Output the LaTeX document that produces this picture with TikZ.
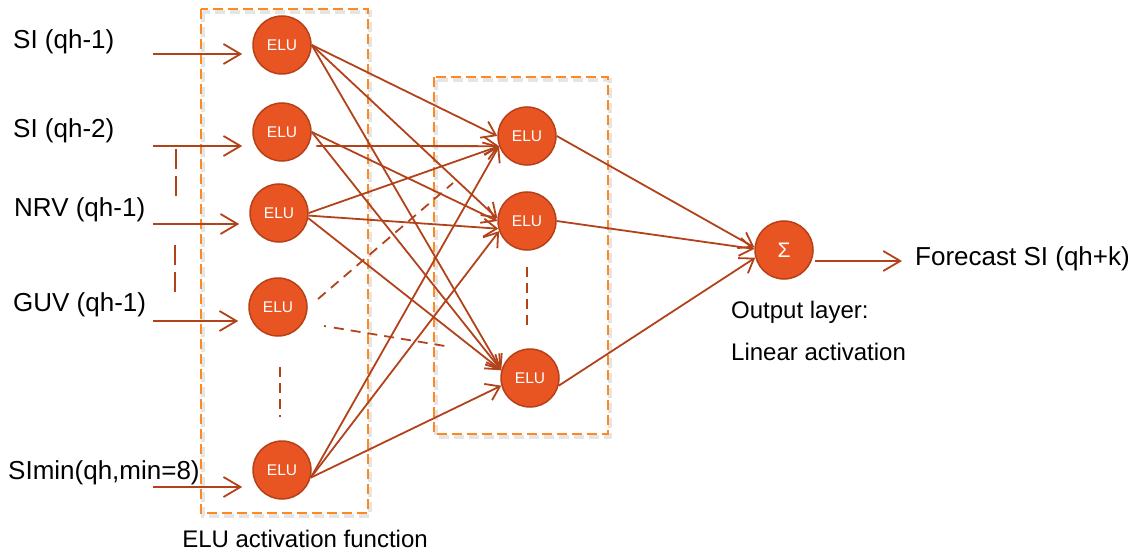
\documentclass[tikz,border=0pt]{standalone}
\usepackage{fontspec}
\setmainfont{Liberation Sans}
\usetikzlibrary{arrows.meta}
\definecolor{brick}{RGB}{178,66,26}
\definecolor{elufill}{RGB}{232,85,34}
\definecolor{eluborder}{RGB}{182,64,24}
\definecolor{boxorange}{RGB}{255,137,30}
\tikzset{
  neuron/.style={circle, fill=elufill, draw=eluborder, line width=1.5pt, minimum size=58pt, inner sep=0pt, text=white, font=\fontsize{15.5}{15.5}\selectfont},
  conn/.style={draw=brick, line width=1.8pt, -{Straight Barb[length=13pt,width=18pt]}},
  inarrow/.style={draw=brick, line width=1.8pt, -{Straight Barb[length=17pt,width=20pt]}, shorten >=10pt},
  lbl/.style={inner sep=0pt, anchor=west, font=\fontsize{26}{30}\selectfont},
  outlbl/.style={inner sep=0pt, anchor=west, font=\fontsize{24}{28}\selectfont},
  layerbox/.style={draw=boxorange, line width=2.5pt, dash pattern=on 10pt off 5pt},
  boxshadow/.style={draw=black!10, line width=4pt, dash pattern=on 10pt off 5pt},
  dots/.style={draw=brick, line width=2pt, dash pattern=on 10pt off 6pt},
  partial/.style={draw=brick, line width=1.8pt, dash pattern=on 10pt off 7pt}
}
\begin{document}
\begin{tikzpicture}[x=1pt,y=-1pt]
\useasboundingbox (0,0) rectangle (1137,556);

% layer boxes with soft shadow
\draw[boxshadow] (203,12) rectangle (370,516);
\draw[layerbox] (201,9) rectangle (368,513);
\draw[boxshadow] (436,80) rectangle (610,437);
\draw[layerbox] (434,77) rectangle (608,434);

% input labels
\node[lbl] (l1) at (13,42) {SI (qh-1)};
\node[lbl] (l2) at (13,131) {SI (qh-2)};
\node[lbl] (l3) at (14,210) {NRV (qh-1)};
\node[lbl] (l4) at (13,305) {GUV (qh-1)};
\node[lbl] (l5) at (8,473) {SImin(qh,min=8)};

% first layer
\node[neuron] (n1) at (282,45) {ELU};
\node[neuron] (n2) at (282,132) {ELU};
\node[neuron] (n3) at (279,213) {ELU};
\node[neuron] (n4) at (278,307) {ELU};
\node[neuron] (n5) at (282,470) {ELU};

% second layer
\node[neuron] (h1) at (527,136) {ELU};
\node[neuron] (h2) at (527,221) {ELU};
\node[neuron] (h3) at (530,378) {ELU};

% output
\node[neuron, font=\fontsize{21}{21}\selectfont] (out) at (784,250) {Σ};
\node[lbl] (fc) at (915,259) {Forecast SI (qh+k)};
\node[outlbl] (ol1) at (731,312) {Output layer:};
\node[outlbl] (ol2) at (731,352) {Linear activation};
\node[outlbl, anchor=center] (cap) at (305,539) {ELU activation function};

% input arrows
\coordinate (s1) at (153,54);
\coordinate (s2) at (153,146);
\coordinate (s3) at (153,224);
\coordinate (s4) at (153,321);
\coordinate (s5) at (153,487);
\draw[inarrow] (s1) -- (s1 -| n1.west);
\draw[inarrow] (s2) -- (s2 -| n2.west);
\draw[inarrow] (s3) -- (s3 -| n3.west);
\draw[inarrow] (s4) -- (s4 -| n4.west);
\draw[inarrow] (s5) -- (s5 -| n5.west);

% ellipsis dashes
\coordinate (e1a) at (176,149); \coordinate (e1b) at (176,198);
\coordinate (e2a) at (175,245); \coordinate (e2b) at (175,295);
\coordinate (e3a) at (280,367); \coordinate (e3b) at (280,417);
\coordinate (e4a) at (527,267); \coordinate (e4b) at (527,330);
\draw[dots, dash pattern=on 20pt off 7pt] (e1a) -- (e1b);
\draw[dots, dash pattern=on 20pt off 7pt] (e2a) -- (e2b);
\draw[dots] (e3a) -- (e3b);
\draw[dots] (e4a) -- (e4b);

% hidden connections
\draw[conn] (n1.east) -- (h1.180);
\draw[conn] (n1.east) -- (h2.175);
\draw[conn] (n1.east) -- (h3.165);
\draw[conn, shorten <=8pt] (n2.-28) -- (h1.200);
\draw[conn] (n2.east) -- (h2.180);
\draw[conn] (n2.east) -- (h3.165);
\draw[conn] (n3.east) -- (h1.200);
\draw[conn] (n3.-5) -- (h2.195);
\draw[conn] (n3.-10) -- (h3.165);
\draw[conn] (n5.-15) -- (h1.200);
\draw[conn] (n5.-15) -- (h2.200);
\draw[conn] (n5.-15) -- (h3.195);

% partial dashed links from the GUV neuron
\coordinate (d1s) at (318,299); \coordinate (d1e) at (453,183);
\coordinate (d2s) at (324,326); \coordinate (d2e) at (451,347);
\draw[partial] (d1s) -- (d1e);
\draw[partial, dash pattern=on 2pt off 8pt on 10pt off 7pt on 10pt off 7pt on 10pt off 7pt on 10pt off 7pt on 10pt off 7pt on 10pt off 7pt on 10pt off 7pt] (d2s) -- (d2e);

% output connections
\draw[conn] (h1.east) -- (out.175);
\draw[conn] (h2.east) -- (out.178);
\draw[conn] (h3.-15) -- (out.195);
\coordinate (o1) at (815,261);
\draw[inarrow, shorten >=13pt] (o1) -- (o1 -| fc.west);
\end{tikzpicture}
\end{document}
